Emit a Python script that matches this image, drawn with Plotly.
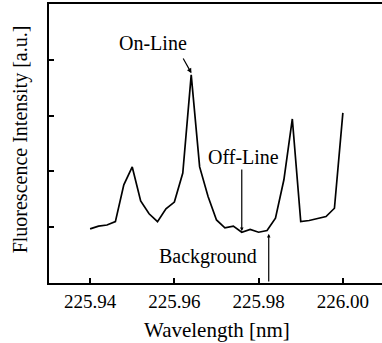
import plotly.graph_objects as go

wavelength = [225.940, 225.942, 225.944, 225.946, 225.948, 225.950, 225.952, 225.954,
              225.956, 225.958, 225.960, 225.962, 225.964, 225.966, 225.968, 225.970,
              225.972, 225.974, 225.976, 225.978, 225.980, 225.982, 225.984, 225.986,
              225.988, 225.990, 225.992, 225.994, 225.996, 225.998, 226.000]
intensity = [0.97, 1.02, 1.04, 1.10, 1.76, 2.08, 1.47, 1.24,
             1.10, 1.33, 1.45, 1.97, 3.73, 2.08, 1.55, 1.13,
             0.99, 1.02, 0.91, 0.96, 0.91, 0.94, 1.16, 1.85,
             2.94, 1.10, 1.12, 1.16, 1.19, 1.34, 3.05]
x_ticks = [225.94, 225.96, 225.98, 226.00]
x_tick_labels = ["225.94", "225.96", "225.98", "226.00"]
y_ticks = [1, 2, 3, 4]

FONT = "Liberation Serif, Times New Roman, serif"

fig = go.Figure()
fig.add_trace(go.Scatter(x=wavelength, y=intensity, mode="lines",
                         line=dict(color="black", width=1.7), showlegend=False))

ann = []
# On-Line
ann.append(dict(x=225.955, y=4.30, text="On-Line", showarrow=False,
                xanchor="center", yanchor="middle",
                font=dict(family=FONT, size=20, color="black")))
ann.append(dict(x=225.96405, y=3.76, ax=225.9619, ay=4.05, axref="x", ayref="y",
                xref="x", yref="y", text="", showarrow=True, arrowhead=2,
                arrowsize=0.8, arrowwidth=1.2, arrowcolor="black"))
# Off-Line
ann.append(dict(x=225.9764, y=2.26, text="Off-Line", showarrow=False,
                xanchor="center", yanchor="middle",
                font=dict(family=FONT, size=20, color="black")))
ann.append(dict(x=225.976, y=0.93, ax=225.976, ay=2.06, axref="x", ayref="y",
                xref="x", yref="y", text="", showarrow=True, arrowhead=2,
                arrowsize=0.6, arrowwidth=1.2, arrowcolor="black"))
# Background
ann.append(dict(x=225.9679, y=0.47, text="Background", showarrow=False,
                xanchor="center", yanchor="middle",
                font=dict(family=FONT, size=20, color="black")))
ann.append(dict(x=225.9824, y=0.88, ax=225.9824, ay=0.0, axref="x", ayref="y",
                xref="x", yref="y", text="", showarrow=True, arrowhead=2,
                arrowsize=0.6, arrowwidth=1.2, arrowcolor="black"))
# Axis titles
ann.append(dict(x=0.5045, y=-0.167, xref="paper", yref="paper", text="Wavelength [nm]",
                xanchor="center", yanchor="middle",
                showarrow=False, font=dict(family=FONT, size=21, color="black")))
ann.append(dict(x=-0.087, y=0.515, xref="paper", yref="paper",
                text="Fluorescence Intensity [a.u.]", textangle=-90,
                xanchor="center", yanchor="middle",
                showarrow=False, font=dict(family=FONT, size=20, color="black")))

fig.update_layout(
    width=382, height=343,
    margin=dict(l=49, r=0, t=4, b=60),
    paper_bgcolor="white", plot_bgcolor="white",
    annotations=ann,
    xaxis=dict(range=[225.93024, 226.00929], tickvals=x_ticks, ticktext=x_tick_labels,
               ticks="inside", ticklen=5, tickwidth=1.5, tickcolor="black",
               showline=True, linecolor="black", linewidth=2, mirror=True,
               showgrid=False, zeroline=False,
               tickfont=dict(family=FONT, size=19, color="black")),
    yaxis=dict(range=[0, 5], tickvals=y_ticks, showticklabels=False,
               ticks="inside", ticklen=5, tickwidth=1.5, tickcolor="black",
               showline=True, linecolor="black", linewidth=2, mirror=False,
               showgrid=False, zeroline=False),
)

fig.write_html("out.html")
